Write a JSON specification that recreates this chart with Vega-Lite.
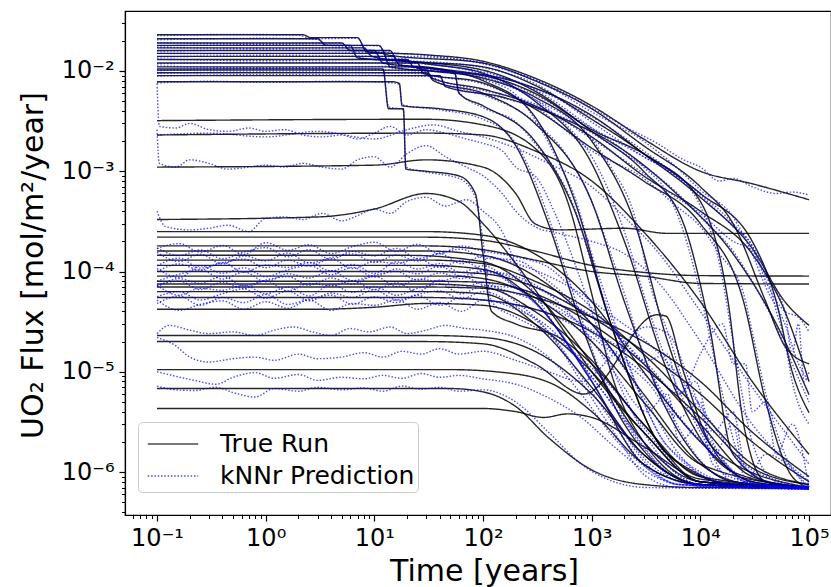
{
"$schema": "https://vega.github.io/schema/vega-lite/v6.json",
"width": 706, "height": 504,
"autosize": {"type": "none"},
"padding": {"left": 125, "top": 11, "right": 0, "bottom": 72},
"background": "white",
"config": {"view": {"stroke": "black", "strokeWidth": 1.2}, "font": "DejaVu Sans"},
"datasets": {
"tr": [
{"s":1,"t":0.1,"f":0.023},{"s":1,"t":2.2,"f":0.023},{"s":1,"t":2.6,"f":0.0215},{"s":1,"t":7,"f":0.0215},{"s":1,"t":8.5,"f":0.0155},{"s":1,"t":30,"f":0.0145},{"s":1,"t":100,"f":0.0125},{"s":1,"t":300,"f":0.0085},{"s":1,"t":1000,"f":0.0045},{"s":1,"t":3000,"f":0.0021},{"s":1,"t":10000,"f":0.001},{"s":1,"t":30000,"f":0.00075},{"s":1,"t":100000,"f":0.00052},
{"s":2,"t":0.1,"f":0.021},{"s":2,"t":3,"f":0.021},{"s":2,"t":3.6,"f":0.018},{"s":2,"t":11,"f":0.018},{"s":2,"t":13,"f":0.0145},{"s":2,"t":100,"f":0.012},{"s":2,"t":300,"f":0.008},{"s":2,"t":1000,"f":0.0042},{"s":2,"t":3000,"f":0.0018},{"s":2,"t":10000,"f":0.0007},{"s":2,"t":20000,"f":0.0003},{"s":2,"t":40000,"f":0.00005},{"s":2,"t":60000,"f":0.000018},{"s":2,"t":100000,"f":0.000012},
{"s":3,"t":0.1,"f":0.019},{"s":3,"t":5,"f":0.019},{"s":3,"t":6,"f":0.016},{"s":3,"t":14,"f":0.016},{"s":3,"t":16,"f":0.013},{"s":3,"t":100,"f":0.011},{"s":3,"t":300,"f":0.0072},{"s":3,"t":1000,"f":0.0033},{"s":3,"t":3000,"f":0.0015},{"s":3,"t":10000,"f":0.0005},{"s":3,"t":18000,"f":0.00005},{"s":3,"t":25000,"f":3e-6},{"s":3,"t":40000,"f":8e-7},{"s":3,"t":100000,"f":7e-7},
{"s":4,"t":0.1,"f":0.018},{"s":4,"t":6,"f":0.018},{"s":4,"t":7,"f":0.0135},{"s":4,"t":20,"f":0.0125},{"s":4,"t":100,"f":0.0102},{"s":4,"t":300,"f":0.0063},{"s":4,"t":1000,"f":0.0025},{"s":4,"t":3000,"f":0.001},{"s":4,"t":7000,"f":0.0003},{"s":4,"t":12000,"f":0.00003},{"s":4,"t":20000,"f":1.5e-6},{"s":4,"t":50000,"f":7.5e-7},{"s":4,"t":100000,"f":7e-7},
{"s":5,"t":0.1,"f":0.017},{"s":5,"t":8,"f":0.017},{"s":5,"t":9.5,"f":0.014},{"s":5,"t":30,"f":0.0118},{"s":5,"t":100,"f":0.0095},{"s":5,"t":300,"f":0.005},{"s":5,"t":1000,"f":0.0012},{"s":5,"t":2000,"f":0.0002},{"s":5,"t":5000,"f":0.00001},{"s":5,"t":20000,"f":1e-6},{"s":5,"t":100000,"f":7e-7},
{"s":6,"t":0.1,"f":0.016},{"s":6,"t":10,"f":0.016},{"s":6,"t":12,"f":0.012},{"s":6,"t":40,"f":0.0105},{"s":6,"t":100,"f":0.008},{"s":6,"t":300,"f":0.0035},{"s":6,"t":700,"f":0.0005},{"s":6,"t":1500,"f":0.00003},{"s":6,"t":5000,"f":1.5e-6},{"s":6,"t":20000,"f":7.5e-7},{"s":6,"t":100000,"f":7e-7},
{"s":7,"t":0.1,"f":0.015},{"s":7,"t":12,"f":0.015},{"s":7,"t":14,"f":0.011},{"s":7,"t":100,"f":0.009},{"s":7,"t":300,"f":0.006},{"s":7,"t":1000,"f":0.0026},{"s":7,"t":3000,"f":0.0015},{"s":7,"t":10000,"f":0.0006},{"s":7,"t":30000,"f":0.0002},{"s":7,"t":50000,"f":0.00005},{"s":7,"t":70000,"f":0.00001},{"s":7,"t":100000,"f":3.9e-6},
{"s":8,"t":0.1,"f":0.014},{"s":8,"t":15,"f":0.014},{"s":8,"t":17,"f":0.0115},{"s":8,"t":50,"f":0.0102},{"s":8,"t":200,"f":0.0078},{"s":8,"t":1000,"f":0.0036},{"s":8,"t":3000,"f":0.0015},{"s":8,"t":10000,"f":0.00055},{"s":8,"t":30000,"f":0.00017},{"s":8,"t":60000,"f":0.00005},{"s":8,"t":100000,"f":0.000029},
{"s":9,"t":0.1,"f":0.013},{"s":9,"t":20,"f":0.013},{"s":9,"t":23,"f":0.011},{"s":9,"t":100,"f":0.0085},{"s":9,"t":300,"f":0.0055},{"s":9,"t":1000,"f":0.002},{"s":9,"t":2500,"f":0.0003},{"s":9,"t":5000,"f":0.00002},{"s":9,"t":15000,"f":1.5e-6},{"s":9,"t":100000,"f":7e-7},
{"s":10,"t":0.1,"f":0.012},{"s":10,"t":25,"f":0.012},{"s":10,"t":28,"f":0.0095},{"s":10,"t":100,"f":0.0076},{"s":10,"t":300,"f":0.0042},{"s":10,"t":1000,"f":0.0017},{"s":10,"t":3000,"f":0.0008},{"s":10,"t":10000,"f":0.0003},{"s":10,"t":25000,"f":0.00005},{"s":10,"t":40000,"f":5e-6},{"s":10,"t":70000,"f":9e-7},{"s":10,"t":100000,"f":7e-7},
{"s":11,"t":0.1,"f":0.011},{"s":11,"t":20,"f":0.011},{"s":11,"t":55,"f":0.0095},{"s":11,"t":60,"f":0.006},{"s":11,"t":100,"f":0.0045},{"s":11,"t":300,"f":0.002},{"s":11,"t":700,"f":0.0004},{"s":11,"t":1500,"f":0.00003},{"s":11,"t":5000,"f":1.5e-6},{"s":11,"t":30000,"f":7e-7},{"s":11,"t":100000,"f":7e-7},
{"s":12,"t":0.1,"f":0.0102},{"s":12,"t":30,"f":0.0102},{"s":12,"t":34,"f":0.0085},{"s":12,"t":100,"f":0.0066},{"s":12,"t":300,"f":0.0045},{"s":12,"t":1000,"f":0.0022},{"s":12,"t":3000,"f":0.0009},{"s":12,"t":10000,"f":0.0004},{"s":12,"t":30000,"f":0.00015},{"s":12,"t":60000,"f":0.00004},{"s":12,"t":100000,"f":0.000008},
{"s":13,"t":0.1,"f":0.0096},{"s":13,"t":30,"f":0.0096},{"s":13,"t":35,"f":0.008},{"s":13,"t":100,"f":0.006},{"s":13,"t":300,"f":0.003},{"s":13,"t":1000,"f":0.0005},{"s":13,"t":2000,"f":0.00005},{"s":13,"t":5000,"f":4e-6},{"s":13,"t":20000,"f":8e-7},{"s":13,"t":100000,"f":7e-7},
{"s":14,"t":0.1,"f":0.009},{"s":14,"t":40,"f":0.009},{"s":14,"t":45,"f":0.007},{"s":14,"t":150,"f":0.0055},{"s":14,"t":500,"f":0.0035},{"s":14,"t":2000,"f":0.0016},{"s":14,"t":6000,"f":0.0006},{"s":14,"t":20000,"f":0.00015},{"s":14,"t":50000,"f":0.00003},{"s":14,"t":100000,"f":5.9e-6},
{"s":15,"t":0.1,"f":0.0078},{"s":15,"t":15,"f":0.0078},{"s":15,"t":17,"f":0.0075},{"s":15,"t":18,"f":0.0045},{"s":15,"t":40,"f":0.0042},{"s":15,"t":100,"f":0.0035},{"s":15,"t":200,"f":0.0018},{"s":15,"t":400,"f":0.0003},{"s":15,"t":800,"f":0.00003},{"s":15,"t":2000,"f":3e-6},{"s":15,"t":10000,"f":7.5e-7},{"s":15,"t":100000,"f":7e-7},
{"s":16,"t":0.1,"f":0.0105},{"s":16,"t":12,"f":0.0105},{"s":16,"t":13.5,"f":0.0042},{"s":16,"t":18.5,"f":0.0042},{"s":16,"t":19.5,"f":0.00105},{"s":16,"t":30,"f":0.001},{"s":16,"t":60,"f":0.0009},{"s":16,"t":85,"f":0.0006},{"s":16,"t":100,"f":0.00015},{"s":16,"t":120,"f":0.00004},{"s":16,"t":200,"f":0.00003},{"s":16,"t":500,"f":0.000022},{"s":16,"t":1000,"f":0.000012},{"s":16,"t":3000,"f":3e-6},{"s":16,"t":10000,"f":8e-7},{"s":16,"t":100000,"f":7e-7},
{"s":17,"t":0.1,"f":0.0032},{"s":17,"t":30,"f":0.0033},{"s":17,"t":100,"f":0.0029},{"s":17,"t":300,"f":0.0017},{"s":17,"t":600,"f":0.0005},{"s":17,"t":1000,"f":0.00006},{"s":17,"t":1500,"f":0.00001},{"s":17,"t":3000,"f":2e-6},{"s":17,"t":10000,"f":7.5e-7},{"s":17,"t":100000,"f":7e-7},
{"s":18,"t":0.1,"f":0.0023},{"s":18,"t":30,"f":0.0024},{"s":18,"t":100,"f":0.0023},{"s":18,"t":300,"f":0.0016},{"s":18,"t":1000,"f":0.0008},{"s":18,"t":3000,"f":0.00025},{"s":18,"t":10000,"f":0.00005},{"s":18,"t":30000,"f":8e-6},{"s":18,"t":100000,"f":1.5e-6},
{"s":19,"t":0.1,"f":0.0011},{"s":19,"t":10,"f":0.00115},{"s":19,"t":30,"f":0.0013},{"s":19,"t":100,"f":0.0011},{"s":19,"t":200,"f":0.0006},{"s":19,"t":300,"f":0.0003},{"s":19,"t":500,"f":0.00026},{"s":19,"t":2000,"f":0.00027},{"s":19,"t":5000,"f":0.00024},{"s":19,"t":100000,"f":0.00024},
{"s":20,"t":0.1,"f":0.00033},{"s":20,"t":3,"f":0.00035},{"s":20,"t":10,"f":0.00042},{"s":20,"t":30,"f":0.0006},{"s":20,"t":60,"f":0.0005},{"s":20,"t":100,"f":0.0003},{"s":20,"t":200,"f":0.00012},{"s":20,"t":500,"f":0.00003},{"s":20,"t":1000,"f":0.00001},{"s":20,"t":3000,"f":2.5e-6},{"s":20,"t":10000,"f":8e-7},{"s":20,"t":100000,"f":7e-7},
{"s":21,"t":0.1,"f":0.00025},{"s":21,"t":30,"f":0.00025},{"s":21,"t":100,"f":0.00023},{"s":21,"t":300,"f":0.00015},{"s":21,"t":1000,"f":0.00005},{"s":21,"t":3000,"f":0.00001},{"s":21,"t":10000,"f":2e-6},{"s":21,"t":30000,"f":8e-7},{"s":21,"t":100000,"f":7e-7},
{"s":22,"t":0.1,"f":0.00022},{"s":22,"t":30,"f":0.00022},{"s":22,"t":100,"f":0.000205},{"s":22,"t":300,"f":0.00016},{"s":22,"t":1000,"f":0.000115},{"s":22,"t":3000,"f":0.000098},{"s":22,"t":10000,"f":0.000091},{"s":22,"t":100000,"f":0.00009},
{"s":23,"t":0.1,"f":0.00018},{"s":23,"t":30,"f":0.00018},{"s":23,"t":100,"f":0.000165},{"s":23,"t":300,"f":0.00013},{"s":23,"t":1000,"f":0.0001},{"s":23,"t":3000,"f":0.00009},{"s":23,"t":10000,"f":0.000076},{"s":23,"t":100000,"f":0.000075},
{"s":24,"t":0.1,"f":0.00016},{"s":24,"t":30,"f":0.00016},{"s":24,"t":100,"f":0.000145},{"s":24,"t":300,"f":0.00009},{"s":24,"t":1000,"f":0.00003},{"s":24,"t":3000,"f":6e-6},{"s":24,"t":10000,"f":1.2e-6},{"s":24,"t":30000,"f":7.5e-7},{"s":24,"t":100000,"f":7e-7},
{"s":25,"t":0.1,"f":0.000145},{"s":25,"t":20,"f":0.000145},{"s":25,"t":100,"f":0.000125},{"s":25,"t":300,"f":0.00006},{"s":25,"t":1000,"f":0.000012},{"s":25,"t":3000,"f":2e-6},{"s":25,"t":10000,"f":8e-7},{"s":25,"t":100000,"f":7e-7},
{"s":26,"t":0.1,"f":0.00013},{"s":26,"t":30,"f":0.00013},{"s":26,"t":100,"f":0.00012},{"s":26,"t":300,"f":0.00008},{"s":26,"t":1000,"f":0.00004},{"s":26,"t":3000,"f":0.000015},{"s":26,"t":10000,"f":4e-6},{"s":26,"t":30000,"f":1.2e-6},{"s":26,"t":100000,"f":7.5e-7},
{"s":27,"t":0.1,"f":0.000115},{"s":27,"t":30,"f":0.000115},{"s":27,"t":100,"f":0.000105},{"s":27,"t":300,"f":0.00005},{"s":27,"t":1000,"f":8e-6},{"s":27,"t":3000,"f":1.2e-6},{"s":27,"t":10000,"f":7.5e-7},{"s":27,"t":100000,"f":7e-7},
{"s":28,"t":0.1,"f":0.0001},{"s":28,"t":30,"f":0.0001},{"s":28,"t":100,"f":0.000095},{"s":28,"t":300,"f":0.00007},{"s":28,"t":1000,"f":0.000035},{"s":28,"t":3000,"f":0.000016},{"s":28,"t":10000,"f":6e-6},{"s":28,"t":30000,"f":2e-6},{"s":28,"t":100000,"f":8e-7},
{"s":29,"t":0.1,"f":0.00009},{"s":29,"t":50,"f":0.00009},{"s":29,"t":100,"f":0.000085},{"s":29,"t":300,"f":0.000055},{"s":29,"t":1000,"f":0.00002},{"s":29,"t":3000,"f":5e-6},{"s":29,"t":10000,"f":1.2e-6},{"s":29,"t":100000,"f":7e-7},
{"s":30,"t":0.1,"f":0.00008},{"s":30,"t":30,"f":0.00008},{"s":30,"t":100,"f":0.000078},{"s":30,"t":300,"f":0.00006},{"s":30,"t":1000,"f":0.00003},{"s":30,"t":3000,"f":0.000012},{"s":30,"t":10000,"f":3e-6},{"s":30,"t":30000,"f":9e-7},{"s":30,"t":100000,"f":7e-7},
{"s":31,"t":0.1,"f":0.000075},{"s":31,"t":30,"f":0.000075},{"s":31,"t":100,"f":0.00007},{"s":31,"t":300,"f":0.00004},{"s":31,"t":1000,"f":0.000013},{"s":31,"t":3000,"f":3e-6},{"s":31,"t":10000,"f":9e-7},{"s":31,"t":100000,"f":7e-7},
{"s":32,"t":0.1,"f":0.00007},{"s":32,"t":30,"f":0.00007},{"s":32,"t":100,"f":0.000068},{"s":32,"t":300,"f":0.000055},{"s":32,"t":1000,"f":0.000035},{"s":32,"t":3000,"f":0.00002},{"s":32,"t":10000,"f":8e-6},{"s":32,"t":30000,"f":2.5e-6},{"s":32,"t":100000,"f":9e-7},
{"s":33,"t":0.1,"f":0.000063},{"s":33,"t":30,"f":0.000063},{"s":33,"t":100,"f":0.00006},{"s":33,"t":300,"f":0.00003},{"s":33,"t":1000,"f":7e-6},{"s":33,"t":3000,"f":1.5e-6},{"s":33,"t":10000,"f":7.5e-7},{"s":33,"t":100000,"f":7e-7},
{"s":34,"t":0.1,"f":0.000055},{"s":34,"t":30,"f":0.000055},{"s":34,"t":100,"f":0.000052},{"s":34,"t":300,"f":0.000042},{"s":34,"t":1000,"f":0.000025},{"s":34,"t":3000,"f":0.000011},{"s":34,"t":10000,"f":3.5e-6},{"s":34,"t":30000,"f":1.1e-6},{"s":34,"t":100000,"f":7.5e-7},
{"s":35,"t":0.1,"f":0.000042},{"s":35,"t":3,"f":0.000042},{"s":35,"t":10,"f":0.000044},{"s":35,"t":30,"f":0.000048},{"s":35,"t":100,"f":0.000046},{"s":35,"t":300,"f":0.00003},{"s":35,"t":1000,"f":0.00001},{"s":35,"t":3000,"f":2.5e-6},{"s":35,"t":10000,"f":8e-7},{"s":35,"t":100000,"f":7e-7},
{"s":36,"t":0.1,"f":0.000023},{"s":36,"t":30,"f":0.000023},{"s":36,"t":100,"f":0.000022},{"s":36,"t":300,"f":0.000016},{"s":36,"t":1000,"f":6e-6},{"s":36,"t":3000,"f":1.5e-6},{"s":36,"t":10000,"f":7.5e-7},{"s":36,"t":100000,"f":7e-7},
{"s":37,"t":0.1,"f":0.00002},{"s":37,"t":30,"f":0.00002},{"s":37,"t":100,"f":0.000019},{"s":37,"t":300,"f":0.000012},{"s":37,"t":850,"f":6e-6},{"s":37,"t":4000,"f":0.000037},{"s":37,"t":4800,"f":0.000036},{"s":37,"t":7000,"f":0.00001},{"s":37,"t":12000,"f":2e-6},{"s":37,"t":30000,"f":8e-7},{"s":37,"t":100000,"f":7e-7},
{"s":38,"t":0.1,"f":0.0000105},{"s":38,"t":50,"f":0.0000105},{"s":38,"t":200,"f":9.5e-6},{"s":38,"t":500,"f":7e-6},{"s":38,"t":1000,"f":4e-6},{"s":38,"t":3000,"f":1.2e-6},{"s":38,"t":10000,"f":7.5e-7},{"s":38,"t":100000,"f":7e-7},
{"s":39,"t":0.1,"f":6.8e-6},{"s":39,"t":50,"f":6.8e-6},{"s":39,"t":100,"f":6.3e-6},{"s":39,"t":200,"f":4.5e-6},{"s":39,"t":400,"f":2.2e-6},{"s":39,"t":1000,"f":1.05e-6},{"s":39,"t":3000,"f":7.5e-7},{"s":39,"t":10000,"f":7e-7},{"s":39,"t":100000,"f":7e-7},
{"s":40,"t":0.1,"f":4.3e-6},{"s":40,"t":100,"f":4.3e-6},{"s":40,"t":200,"f":4e-6},{"s":40,"t":360,"f":3.5e-6},{"s":40,"t":600,"f":3.8e-6},{"s":40,"t":1000,"f":3.5e-6},{"s":40,"t":3000,"f":1.8e-6},{"s":40,"t":10000,"f":8.5e-7},{"s":40,"t":100000,"f":7e-7}
],
"pr": [
{"s":1,"t":0.1,"f":0.0225},{"s":1,"t":0.5,"f":0.0232},{"s":1,"t":2,"f":0.0228},{"s":1,"t":2.6,"f":0.021},{"s":1,"t":7,"f":0.0212},{"s":1,"t":8.5,"f":0.016},{"s":1,"t":20,"f":0.0148},{"s":1,"t":50,"f":0.0135},{"s":1,"t":100,"f":0.012},{"s":1,"t":200,"f":0.0095},{"s":1,"t":400,"f":0.0072},{"s":1,"t":1000,"f":0.0043},{"s":1,"t":2000,"f":0.0028},{"s":1,"t":4000,"f":0.0019},{"s":1,"t":7000,"f":0.0013},{"s":1,"t":10000,"f":0.0011},{"s":1,"t":15000,"f":0.0008},{"s":1,"t":20000,"f":0.00085},{"s":1,"t":30000,"f":0.0007},{"s":1,"t":50000,"f":0.0006},{"s":1,"t":70000,"f":0.00062},{"s":1,"t":100000,"f":0.00058},
{"s":2,"t":0.1,"f":0.0205},{"s":2,"t":1,"f":0.0212},{"s":2,"t":3,"f":0.0207},{"s":2,"t":3.6,"f":0.0182},{"s":2,"t":11,"f":0.0178},{"s":2,"t":13,"f":0.014},{"s":2,"t":30,"f":0.0138},{"s":2,"t":100,"f":0.0118},{"s":2,"t":300,"f":0.0082},{"s":2,"t":1000,"f":0.0039},{"s":2,"t":3000,"f":0.002},{"s":2,"t":6000,"f":0.0011},{"s":2,"t":10000,"f":0.00065},{"s":2,"t":20000,"f":0.00035},{"s":2,"t":30000,"f":0.00015},{"s":2,"t":40000,"f":0.00007},{"s":2,"t":60000,"f":0.00003},{"s":2,"t":80000,"f":0.000012},{"s":2,"t":100000,"f":0.000008},
{"s":3,"t":0.1,"f":0.0192},{"s":3,"t":1,"f":0.0188},{"s":3,"t":5,"f":0.0191},{"s":3,"t":6,"f":0.0162},{"s":3,"t":14,"f":0.0158},{"s":3,"t":16,"f":0.0128},{"s":3,"t":40,"f":0.0122},{"s":3,"t":100,"f":0.0108},{"s":3,"t":300,"f":0.0075},{"s":3,"t":1000,"f":0.0031},{"s":3,"t":3000,"f":0.0014},{"s":3,"t":6000,"f":0.0009},{"s":3,"t":10000,"f":0.00045},{"s":3,"t":15000,"f":0.00012},{"s":3,"t":20000,"f":0.00002},{"s":3,"t":30000,"f":2e-6},{"s":3,"t":50000,"f":8e-7},{"s":3,"t":100000,"f":7e-7},
{"s":4,"t":0.1,"f":0.0178},{"s":4,"t":1,"f":0.0183},{"s":4,"t":6,"f":0.0176},{"s":4,"t":7,"f":0.0138},{"s":4,"t":20,"f":0.0122},{"s":4,"t":50,"f":0.011},{"s":4,"t":100,"f":0.0098},{"s":4,"t":300,"f":0.0065},{"s":4,"t":1000,"f":0.0027},{"s":4,"t":3000,"f":0.0011},{"s":4,"t":5000,"f":0.0006},{"s":4,"t":7000,"f":0.00025},{"s":4,"t":10000,"f":0.00006},{"s":4,"t":15000,"f":0.000008},{"s":4,"t":25000,"f":1.2e-6},{"s":4,"t":100000,"f":7e-7},
{"s":5,"t":0.1,"f":0.0172},{"s":5,"t":1,"f":0.0168},{"s":5,"t":8,"f":0.0171},{"s":5,"t":9.5,"f":0.0138},{"s":5,"t":30,"f":0.012},{"s":5,"t":100,"f":0.0092},{"s":5,"t":300,"f":0.0052},{"s":5,"t":600,"f":0.0028},{"s":5,"t":1000,"f":0.0014},{"s":5,"t":2000,"f":0.00025},{"s":5,"t":3000,"f":0.00006},{"s":5,"t":5000,"f":0.000012},{"s":5,"t":10000,"f":2.5e-6},{"s":5,"t":20000,"f":8e-7},{"s":5,"t":100000,"f":7e-7},
{"s":6,"t":0.1,"f":0.0158},{"s":6,"t":1,"f":0.0162},{"s":6,"t":10,"f":0.0158},{"s":6,"t":12,"f":0.0121},{"s":6,"t":40,"f":0.0102},{"s":6,"t":100,"f":0.0082},{"s":6,"t":200,"f":0.0058},{"s":6,"t":300,"f":0.0033},{"s":6,"t":500,"f":0.0012},{"s":6,"t":700,"f":0.00055},{"s":6,"t":1000,"f":0.00015},{"s":6,"t":1500,"f":0.00004},{"s":6,"t":3000,"f":5e-6},{"s":6,"t":5000,"f":1.8e-6},{"s":6,"t":20000,"f":7.5e-7},{"s":6,"t":100000,"f":7e-7},
{"s":7,"t":0.1,"f":0.015},{"s":7,"t":1,"f":0.0148},{"s":7,"t":12,"f":0.0152},{"s":7,"t":14,"f":0.0108},{"s":7,"t":40,"f":0.0098},{"s":7,"t":100,"f":0.0092},{"s":7,"t":300,"f":0.0058},{"s":7,"t":1000,"f":0.0027},{"s":7,"t":3000,"f":0.0014},{"s":7,"t":6000,"f":0.0009},{"s":7,"t":10000,"f":0.0006},{"s":7,"t":20000,"f":0.0003},{"s":7,"t":30000,"f":0.00018},{"s":7,"t":40000,"f":0.0001},{"s":7,"t":50000,"f":0.00004},{"s":7,"t":60000,"f":0.00002},{"s":7,"t":70000,"f":0.000008},{"s":7,"t":100000,"f":0.000003},
{"s":8,"t":0.1,"f":0.0138},{"s":8,"t":1,"f":0.0142},{"s":8,"t":15,"f":0.0139},{"s":8,"t":17,"f":0.0117},{"s":8,"t":50,"f":0.0099},{"s":8,"t":200,"f":0.0079},{"s":8,"t":500,"f":0.0052},{"s":8,"t":1000,"f":0.0035},{"s":8,"t":3000,"f":0.0016},{"s":8,"t":10000,"f":0.00058},{"s":8,"t":20000,"f":0.00028},{"s":8,"t":30000,"f":0.00018},{"s":8,"t":40000,"f":0.00008},{"s":8,"t":60000,"f":0.00004},{"s":8,"t":80000,"f":0.000035},{"s":8,"t":100000,"f":0.000025},
{"s":9,"t":0.1,"f":0.0131},{"s":9,"t":1,"f":0.0127},{"s":9,"t":20,"f":0.0132},{"s":9,"t":23,"f":0.0108},{"s":9,"t":100,"f":0.0088},{"s":9,"t":300,"f":0.0052},{"s":9,"t":1000,"f":0.0021},{"s":9,"t":1500,"f":0.0011},{"s":9,"t":2500,"f":0.00035},{"s":9,"t":3500,"f":0.00007},{"s":9,"t":5000,"f":0.000025},{"s":9,"t":8000,"f":5e-6},{"s":9,"t":15000,"f":1.5e-6},{"s":9,"t":30000,"f":7.5e-7},{"s":9,"t":100000,"f":7e-7},
{"s":10,"t":0.1,"f":0.0118},{"s":10,"t":1,"f":0.0122},{"s":10,"t":25,"f":0.0119},{"s":10,"t":28,"f":0.0097},{"s":10,"t":100,"f":0.0074},{"s":10,"t":300,"f":0.0044},{"s":10,"t":1000,"f":0.0016},{"s":10,"t":3000,"f":0.00085},{"s":10,"t":6000,"f":0.00045},{"s":10,"t":10000,"f":0.00028},{"s":10,"t":15000,"f":0.00015},{"s":10,"t":25000,"f":0.00006},{"s":10,"t":30000,"f":0.000025},{"s":10,"t":40000,"f":0.000006},{"s":10,"t":60000,"f":1.5e-6},{"s":10,"t":100000,"f":7e-7},
{"s":11,"t":0.1,"f":0.0112},{"s":11,"t":1,"f":0.0108},{"s":11,"t":20,"f":0.0111},{"s":11,"t":55,"f":0.0093},{"s":11,"t":60,"f":0.0062},{"s":11,"t":100,"f":0.0043},{"s":11,"t":200,"f":0.0031},{"s":11,"t":300,"f":0.0019},{"s":11,"t":500,"f":0.0009},{"s":11,"t":700,"f":0.00042},{"s":11,"t":1000,"f":0.00012},{"s":11,"t":1500,"f":0.000035},{"s":11,"t":3000,"f":5e-6},{"s":11,"t":5000,"f":1.8e-6},{"s":11,"t":30000,"f":7e-7},{"s":11,"t":100000,"f":7e-7},
{"s":12,"t":0.1,"f":0.0101},{"s":12,"t":1,"f":0.0104},{"s":12,"t":30,"f":0.01},{"s":12,"t":34,"f":0.0087},{"s":12,"t":100,"f":0.0064},{"s":12,"t":300,"f":0.0047},{"s":12,"t":1000,"f":0.0021},{"s":12,"t":3000,"f":0.00095},{"s":12,"t":6000,"f":0.00055},{"s":12,"t":10000,"f":0.00038},{"s":12,"t":20000,"f":0.0002},{"s":12,"t":30000,"f":0.00016},{"s":12,"t":40000,"f":0.00009},{"s":12,"t":60000,"f":0.00004},{"s":12,"t":70000,"f":0.000015},{"s":12,"t":80000,"f":0.00003},{"s":12,"t":90000,"f":0.000008},{"s":12,"t":100000,"f":0.00001},
{"s":13,"t":0.1,"f":0.0095},{"s":13,"t":1,"f":0.0098},{"s":13,"t":30,"f":0.0094},{"s":13,"t":35,"f":0.0082},{"s":13,"t":100,"f":0.0058},{"s":13,"t":300,"f":0.0031},{"s":13,"t":600,"f":0.0014},{"s":13,"t":1000,"f":0.0005},{"s":13,"t":1500,"f":0.00015},{"s":13,"t":2000,"f":0.00006},{"s":13,"t":3000,"f":0.000015},{"s":13,"t":5000,"f":4.5e-6},{"s":13,"t":10000,"f":1.3e-6},{"s":13,"t":20000,"f":8e-7},{"s":13,"t":100000,"f":7e-7},
{"s":14,"t":0.1,"f":0.0089},{"s":14,"t":1,"f":0.0092},{"s":14,"t":40,"f":0.0088},{"s":14,"t":45,"f":0.0072},{"s":14,"t":150,"f":0.0054},{"s":14,"t":500,"f":0.0036},{"s":14,"t":2000,"f":0.0015},{"s":14,"t":4000,"f":0.0009},{"s":14,"t":6000,"f":0.00062},{"s":14,"t":10000,"f":0.00035},{"s":14,"t":20000,"f":0.00016},{"s":14,"t":30000,"f":0.00008},{"s":14,"t":50000,"f":0.000028},{"s":14,"t":70000,"f":0.000012},{"s":14,"t":100000,"f":0.000005},
{"s":15,"t":0.1,"f":0.0076},{"s":15,"t":0.3,"f":0.0079},{"s":15,"t":1,"f":0.0077},{"s":15,"t":5,"f":0.0079},{"s":15,"t":15,"f":0.0076},{"s":15,"t":17,"f":0.0073},{"s":15,"t":18,"f":0.0046},{"s":15,"t":40,"f":0.0041},{"s":15,"t":100,"f":0.0033},{"s":15,"t":200,"f":0.0019},{"s":15,"t":300,"f":0.0008},{"s":15,"t":400,"f":0.00035},{"s":15,"t":600,"f":0.00009},{"s":15,"t":800,"f":0.000035},{"s":15,"t":1200,"f":0.00001},{"s":15,"t":2000,"f":3.5e-6},{"s":15,"t":5000,"f":1e-6},{"s":15,"t":10000,"f":7.5e-7},{"s":15,"t":100000,"f":7e-7},
{"s":16,"t":0.1,"f":0.0102},{"s":16,"t":1,"f":0.0106},{"s":16,"t":12,"f":0.0103},{"s":16,"t":13.5,"f":0.0044},{"s":16,"t":18.5,"f":0.0041},{"s":16,"t":19.5,"f":0.0011},{"s":16,"t":30,"f":0.00098},{"s":16,"t":60,"f":0.00085},{"s":16,"t":85,"f":0.00055},{"s":16,"t":100,"f":0.0002},{"s":16,"t":120,"f":0.00005},{"s":16,"t":200,"f":0.000035},{"s":16,"t":300,"f":0.000028},{"s":16,"t":500,"f":0.00002},{"s":16,"t":1000,"f":0.000011},{"s":16,"t":2000,"f":5e-6},{"s":16,"t":3000,"f":2.8e-6},{"s":16,"t":10000,"f":8e-7},{"s":16,"t":100000,"f":7e-7},
{"s":17,"t":0.1,"f":0.0075},{"s":17,"t":0.105,"f":0.0028},{"s":17,"t":0.15,"f":0.0027},{"s":17,"t":0.2,"f":0.003},{"s":17,"t":0.3,"f":0.0026},{"s":17,"t":0.45,"f":0.0025},{"s":17,"t":0.7,"f":0.0027},{"s":17,"t":1,"f":0.0025},{"s":17,"t":1.5,"f":0.0026},{"s":17,"t":2.2,"f":0.0023},{"s":17,"t":3.3,"f":0.0022},{"s":17,"t":5,"f":0.0023},{"s":17,"t":7,"f":0.0021},{"s":17,"t":10,"f":0.0024},{"s":17,"t":14,"f":0.0028},{"s":17,"t":20,"f":0.0023},{"s":17,"t":30,"f":0.0026},{"s":17,"t":45,"f":0.0024},{"s":17,"t":70,"f":0.0021},{"s":17,"t":100,"f":0.0019},{"s":17,"t":150,"f":0.0016},{"s":17,"t":200,"f":0.0011},{"s":17,"t":300,"f":0.0009},{"s":17,"t":450,"f":0.0004},{"s":17,"t":700,"f":0.00012},{"s":17,"t":1000,"f":0.00004},{"s":17,"t":1500,"f":0.000012},{"s":17,"t":3000,"f":2.5e-6},{"s":17,"t":10000,"f":7.5e-7},{"s":17,"t":100000,"f":6.8e-7},
{"s":18,"t":0.1,"f":0.0023},{"s":18,"t":0.3,"f":0.0024},{"s":18,"t":1,"f":0.0022},{"s":18,"t":3,"f":0.0025},{"s":18,"t":10,"f":0.0021},{"s":18,"t":20,"f":0.0026},{"s":18,"t":35,"f":0.0029},{"s":18,"t":60,"f":0.0025},{"s":18,"t":100,"f":0.0022},{"s":18,"t":200,"f":0.0017},{"s":18,"t":400,"f":0.0012},{"s":18,"t":1000,"f":0.0007},{"s":18,"t":2000,"f":0.00035},{"s":18,"t":4000,"f":0.00016},{"s":18,"t":10000,"f":0.00004},{"s":18,"t":30000,"f":7e-6},{"s":18,"t":100000,"f":1.2e-6},
{"s":19,"t":0.1,"f":0.0026},{"s":19,"t":0.105,"f":0.0012},{"s":19,"t":0.15,"f":0.0011},{"s":19,"t":0.2,"f":0.0013},{"s":19,"t":0.3,"f":0.0012},{"s":19,"t":0.45,"f":0.00105},{"s":19,"t":0.7,"f":0.0011},{"s":19,"t":1,"f":0.00115},{"s":19,"t":1.5,"f":0.0011},{"s":19,"t":2.2,"f":0.0012},{"s":19,"t":3.3,"f":0.0011},{"s":19,"t":5,"f":0.00105},{"s":19,"t":7,"f":0.0013},{"s":19,"t":10,"f":0.0014},{"s":19,"t":14,"f":0.0011},{"s":19,"t":20,"f":0.0015},{"s":19,"t":30,"f":0.0018},{"s":19,"t":45,"f":0.0014},{"s":19,"t":70,"f":0.0011},{"s":19,"t":100,"f":0.0009},{"s":19,"t":150,"f":0.0006},{"s":19,"t":200,"f":0.0004},{"s":19,"t":300,"f":0.00028},{"s":19,"t":500,"f":0.00024},{"s":19,"t":1000,"f":0.0002},{"s":19,"t":2000,"f":0.00015},{"s":19,"t":4000,"f":0.00008},{"s":19,"t":10000,"f":0.00002},{"s":19,"t":30000,"f":3e-6},{"s":19,"t":100000,"f":8e-7},
{"s":20,"t":0.1,"f":0.0004},{"s":20,"t":0.12,"f":0.00028},{"s":20,"t":0.2,"f":0.00026},{"s":20,"t":0.3,"f":0.00027},{"s":20,"t":0.45,"f":0.00029},{"s":20,"t":0.7,"f":0.00025},{"s":20,"t":1,"f":0.00034},{"s":20,"t":1.5,"f":0.00035},{"s":20,"t":2.2,"f":0.00033},{"s":20,"t":3.3,"f":0.00038},{"s":20,"t":5,"f":0.00032},{"s":20,"t":7,"f":0.00036},{"s":20,"t":10,"f":0.00042},{"s":20,"t":14,"f":0.00038},{"s":20,"t":20,"f":0.0005},{"s":20,"t":30,"f":0.00055},{"s":20,"t":45,"f":0.00045},{"s":20,"t":70,"f":0.00052},{"s":20,"t":100,"f":0.0004},{"s":20,"t":150,"f":0.00025},{"s":20,"t":200,"f":0.00012},{"s":20,"t":300,"f":0.00006},{"s":20,"t":500,"f":0.000025},{"s":20,"t":1000,"f":0.000009},{"s":20,"t":3000,"f":2e-6},{"s":20,"t":10000,"f":7.5e-7},{"s":20,"t":100000,"f":6.8e-7},
{"s":21,"t":0.1,"f":0.00017},{"s":21,"t":0.16,"f":0.00019},{"s":21,"t":0.25,"f":0.000156},{"s":21,"t":0.4,"f":0.000182},{"s":21,"t":0.63,"f":0.000148},{"s":21,"t":1,"f":0.000194},{"s":21,"t":1.6,"f":0.000163},{"s":21,"t":2.5,"f":0.000185},{"s":21,"t":4,"f":0.000151},{"s":21,"t":6.3,"f":0.000177},{"s":21,"t":10,"f":0.000196},{"s":21,"t":16,"f":0.000158},{"s":21,"t":25,"f":0.000187},{"s":21,"t":40,"f":0.00015},{"s":21,"t":63,"f":0.00018},{"s":21,"t":100,"f":0.00016},{"s":21,"t":200,"f":0.00014},{"s":21,"t":400,"f":0.00011},{"s":21,"t":800,"f":0.000055},{"s":21,"t":1600,"f":0.000026},{"s":21,"t":3200,"f":0.000011},{"s":21,"t":6400,"f":3.5e-6},{"s":21,"t":13000,"f":1.6e-6},{"s":21,"t":26000,"f":8.5e-7},{"s":21,"t":50000,"f":7.2e-7},{"s":21,"t":100000,"f":6.8e-7},
{"s":22,"t":0.1,"f":0.000171},{"s":22,"t":0.16,"f":0.000144},{"s":22,"t":0.25,"f":0.000164},{"s":22,"t":0.4,"f":0.000134},{"s":22,"t":0.63,"f":0.000156},{"s":22,"t":1,"f":0.000173},{"s":22,"t":1.6,"f":0.00014},{"s":22,"t":2.5,"f":0.000165},{"s":22,"t":4,"f":0.000132},{"s":22,"t":6.3,"f":0.000159},{"s":22,"t":10,"f":0.000143},{"s":22,"t":16,"f":0.00017},{"s":22,"t":25,"f":0.000135},{"s":22,"t":40,"f":0.000153},{"s":22,"t":63,"f":0.000167},{"s":22,"t":100,"f":0.000137},{"s":22,"t":200,"f":0.00013},{"s":22,"t":400,"f":0.00008},{"s":22,"t":800,"f":0.00004},{"s":22,"t":1600,"f":0.000015},{"s":22,"t":3200,"f":5e-6},{"s":22,"t":6400,"f":1.5e-6},{"s":22,"t":13000,"f":8e-7},{"s":22,"t":26000,"f":7e-7},{"s":22,"t":100000,"f":6.8e-7},
{"s":23,"t":0.1,"f":0.000155},{"s":23,"t":0.16,"f":0.000126},{"s":23,"t":0.25,"f":0.000149},{"s":23,"t":0.4,"f":0.000119},{"s":23,"t":0.63,"f":0.000143},{"s":23,"t":1,"f":0.000128},{"s":23,"t":1.6,"f":0.000153},{"s":23,"t":2.5,"f":0.000122},{"s":23,"t":4,"f":0.000138},{"s":23,"t":6.3,"f":0.00015},{"s":23,"t":10,"f":0.000123},{"s":23,"t":16,"f":0.000146},{"s":23,"t":25,"f":0.000127},{"s":23,"t":40,"f":0.000151},{"s":23,"t":63,"f":0.00012},{"s":23,"t":100,"f":0.000142},{"s":23,"t":200,"f":0.00012},{"s":23,"t":400,"f":0.00009},{"s":23,"t":800,"f":0.00006},{"s":23,"t":1600,"f":0.000035},{"s":23,"t":3200,"f":0.00002},{"s":23,"t":6400,"f":9e-6},{"s":23,"t":13000,"f":3e-6},{"s":23,"t":26000,"f":1.1e-6},{"s":23,"t":50000,"f":7.5e-7},{"s":23,"t":100000,"f":7e-7},
{"s":24,"t":0.1,"f":0.000114},{"s":24,"t":0.16,"f":0.000136},{"s":24,"t":0.25,"f":0.000108},{"s":24,"t":0.4,"f":0.000122},{"s":24,"t":0.63,"f":0.000133},{"s":24,"t":1,"f":0.000109},{"s":24,"t":1.6,"f":0.00013},{"s":24,"t":2.5,"f":0.000113},{"s":24,"t":4,"f":0.000134},{"s":24,"t":6.3,"f":0.000107},{"s":24,"t":10,"f":0.000126},{"s":24,"t":16,"f":0.00012},{"s":24,"t":25,"f":0.000134},{"s":24,"t":40,"f":0.00011},{"s":24,"t":63,"f":0.000128},{"s":24,"t":100,"f":0.000104},{"s":24,"t":200,"f":0.00009},{"s":24,"t":400,"f":0.00006},{"s":24,"t":800,"f":0.000028},{"s":24,"t":1600,"f":0.00001},{"s":24,"t":3200,"f":4e-6},{"s":24,"t":5000,"f":6e-6},{"s":24,"t":6400,"f":2e-6},{"s":24,"t":10000,"f":3e-6},{"s":24,"t":13000,"f":1.2e-6},{"s":24,"t":26000,"f":8e-7},{"s":24,"t":100000,"f":6.8e-7},
{"s":25,"t":0.1,"f":0.0001},{"s":25,"t":0.16,"f":0.000119},{"s":25,"t":0.25,"f":0.000103},{"s":25,"t":0.4,"f":0.000123},{"s":25,"t":0.63,"f":0.000098},{"s":25,"t":1,"f":0.000116},{"s":25,"t":1.6,"f":0.00011},{"s":25,"t":2.5,"f":0.000123},{"s":25,"t":4,"f":0.000101},{"s":25,"t":6.3,"f":0.000118},{"s":25,"t":10,"f":0.000096},{"s":25,"t":16,"f":0.000125},{"s":25,"t":25,"f":0.000106},{"s":25,"t":40,"f":0.00012},{"s":25,"t":63,"f":0.000098},{"s":25,"t":100,"f":0.000114},{"s":25,"t":200,"f":0.00007},{"s":25,"t":400,"f":0.000035},{"s":25,"t":800,"f":0.000012},{"s":25,"t":1600,"f":3.5e-6},{"s":25,"t":3200,"f":1.3e-6},{"s":25,"t":6400,"f":8e-7},{"s":25,"t":13000,"f":7e-7},{"s":25,"t":100000,"f":6.8e-7},
{"s":26,"t":0.1,"f":0.000107},{"s":26,"t":0.16,"f":0.000087},{"s":26,"t":0.25,"f":0.000114},{"s":26,"t":0.4,"f":0.000096},{"s":26,"t":0.63,"f":0.000109},{"s":26,"t":1,"f":0.000089},{"s":26,"t":1.6,"f":0.000104},{"s":26,"t":2.5,"f":0.000115},{"s":26,"t":4,"f":0.000093},{"s":26,"t":6.3,"f":0.00011},{"s":26,"t":10,"f":0.000088},{"s":26,"t":16,"f":0.000106},{"s":26,"t":25,"f":0.000095},{"s":26,"t":40,"f":0.000113},{"s":26,"t":63,"f":0.00009},{"s":26,"t":100,"f":0.000102},{"s":26,"t":200,"f":0.000085},{"s":26,"t":400,"f":0.00006},{"s":26,"t":800,"f":0.000042},{"s":26,"t":1600,"f":0.000025},{"s":26,"t":3200,"f":0.000013},{"s":26,"t":5000,"f":0.000015},{"s":26,"t":6400,"f":6e-6},{"s":26,"t":9000,"f":8e-6},{"s":26,"t":13000,"f":2.5e-6},{"s":26,"t":20000,"f":4e-6},{"s":26,"t":26000,"f":1.1e-6},{"s":26,"t":50000,"f":7.5e-7},{"s":26,"t":100000,"f":7e-7},
{"s":27,"t":0.1,"f":0.00008},{"s":27,"t":0.16,"f":0.000094},{"s":27,"t":0.25,"f":0.000104},{"s":27,"t":0.4,"f":0.000084},{"s":27,"t":0.63,"f":0.000099},{"s":27,"t":1,"f":0.000079},{"s":27,"t":1.6,"f":0.000095},{"s":27,"t":2.5,"f":0.000086},{"s":27,"t":4,"f":0.000102},{"s":27,"t":6.3,"f":0.000081},{"s":27,"t":10,"f":0.000092},{"s":27,"t":16,"f":0.0001},{"s":27,"t":25,"f":0.000082},{"s":27,"t":40,"f":0.000097},{"s":27,"t":63,"f":0.000085},{"s":27,"t":100,"f":0.0001},{"s":27,"t":200,"f":0.00007},{"s":27,"t":400,"f":0.000035},{"s":27,"t":800,"f":0.000012},{"s":27,"t":1600,"f":3.5e-6},{"s":27,"t":3200,"f":1.2e-6},{"s":27,"t":6400,"f":7.5e-7},{"s":27,"t":100000,"f":6.8e-7},
{"s":28,"t":0.1,"f":0.00007},{"s":28,"t":0.16,"f":0.000085},{"s":28,"t":0.25,"f":0.000076},{"s":28,"t":0.4,"f":0.00009},{"s":28,"t":0.63,"f":0.000072},{"s":28,"t":1,"f":0.000082},{"s":28,"t":1.6,"f":0.000089},{"s":28,"t":2.5,"f":0.000073},{"s":28,"t":4,"f":0.000086},{"s":28,"t":6.3,"f":0.000075},{"s":28,"t":10,"f":0.00009},{"s":28,"t":16,"f":0.000071},{"s":28,"t":25,"f":0.000084},{"s":28,"t":40,"f":0.00008},{"s":28,"t":63,"f":0.00009},{"s":28,"t":100,"f":0.000074},{"s":28,"t":200,"f":0.000068},{"s":28,"t":400,"f":0.00005},{"s":28,"t":800,"f":0.00003},{"s":28,"t":1600,"f":0.000016},{"s":28,"t":3200,"f":9e-6},{"s":28,"t":6400,"f":3.5e-6},{"s":28,"t":13000,"f":1.5e-6},{"s":28,"t":26000,"f":8e-7},{"s":28,"t":100000,"f":7e-7},
{"s":29,"t":0.1,"f":0.000073},{"s":29,"t":0.16,"f":0.00008},{"s":29,"t":0.25,"f":0.000066},{"s":29,"t":0.4,"f":0.000078},{"s":29,"t":0.63,"f":0.000068},{"s":29,"t":1,"f":0.000081},{"s":29,"t":1.6,"f":0.000064},{"s":29,"t":2.5,"f":0.000076},{"s":29,"t":4,"f":0.000072},{"s":29,"t":6.3,"f":0.000081},{"s":29,"t":10,"f":0.000066},{"s":29,"t":16,"f":0.000077},{"s":29,"t":25,"f":0.000063},{"s":29,"t":40,"f":0.000082},{"s":29,"t":63,"f":0.000069},{"s":29,"t":100,"f":0.000078},{"s":29,"t":200,"f":0.00005},{"s":29,"t":400,"f":0.000025},{"s":29,"t":800,"f":8e-6},{"s":29,"t":1600,"f":2.5e-6},{"s":29,"t":3200,"f":9e-7},{"s":29,"t":6400,"f":7e-7},{"s":29,"t":100000,"f":6.8e-7},
{"s":30,"t":0.1,"f":0.000073},{"s":30,"t":0.16,"f":0.000058},{"s":30,"t":0.25,"f":0.000068},{"s":30,"t":0.4,"f":0.000065},{"s":30,"t":0.63,"f":0.000073},{"s":30,"t":1,"f":0.00006},{"s":30,"t":1.6,"f":0.00007},{"s":30,"t":2.5,"f":0.000057},{"s":30,"t":4,"f":0.000074},{"s":30,"t":6.3,"f":0.000062},{"s":30,"t":10,"f":0.000071},{"s":30,"t":16,"f":0.000058},{"s":30,"t":25,"f":0.000068},{"s":30,"t":40,"f":0.000075},{"s":30,"t":63,"f":0.00006},{"s":30,"t":100,"f":0.000072},{"s":30,"t":200,"f":0.00006},{"s":30,"t":400,"f":0.000045},{"s":30,"t":800,"f":0.00003},{"s":30,"t":1600,"f":0.000019},{"s":30,"t":3200,"f":0.000012},{"s":30,"t":6400,"f":6e-6},{"s":30,"t":10000,"f":0.000015},{"s":30,"t":13000,"f":0.000025},{"s":30,"t":16000,"f":0.00003},{"s":30,"t":20000,"f":0.000012},{"s":30,"t":26000,"f":0.000012},{"s":30,"t":30000,"f":4e-6},{"s":30,"t":40000,"f":5e-6},{"s":30,"t":50000,"f":1.5e-6},{"s":30,"t":70000,"f":3e-6},{"s":30,"t":100000,"f":7e-7},
{"s":31,"t":0.1,"f":0.000056},{"s":31,"t":0.16,"f":0.000063},{"s":31,"t":0.25,"f":0.000052},{"s":31,"t":0.4,"f":0.00006},{"s":31,"t":0.63,"f":0.000067},{"s":31,"t":1,"f":0.000054},{"s":31,"t":1.6,"f":0.000064},{"s":31,"t":2.5,"f":0.000051},{"s":31,"t":4,"f":0.000061},{"s":31,"t":6.3,"f":0.000055},{"s":31,"t":10,"f":0.000066},{"s":31,"t":16,"f":0.000052},{"s":31,"t":25,"f":0.000059},{"s":31,"t":40,"f":0.000064},{"s":31,"t":63,"f":0.000053},{"s":31,"t":100,"f":0.000063},{"s":31,"t":200,"f":0.000045},{"s":31,"t":400,"f":0.000025},{"s":31,"t":800,"f":9e-6},{"s":31,"t":1600,"f":3e-6},{"s":31,"t":3200,"f":1.1e-6},{"s":31,"t":6400,"f":7.5e-7},{"s":31,"t":100000,"f":6.8e-7},
{"s":32,"t":0.1,"f":0.000048},{"s":32,"t":0.16,"f":0.000057},{"s":32,"t":0.25,"f":0.000046},{"s":32,"t":0.4,"f":0.000055},{"s":32,"t":0.63,"f":0.000049},{"s":32,"t":1,"f":0.000059},{"s":32,"t":1.6,"f":0.000047},{"s":32,"t":2.5,"f":0.000053},{"s":32,"t":4,"f":0.000058},{"s":32,"t":6.3,"f":0.000047},{"s":32,"t":10,"f":0.000056},{"s":32,"t":16,"f":0.000049},{"s":32,"t":25,"f":0.000058},{"s":32,"t":40,"f":0.000046},{"s":32,"t":63,"f":0.000055},{"s":32,"t":100,"f":0.000052},{"s":32,"t":200,"f":0.000046},{"s":32,"t":400,"f":0.000038},{"s":32,"t":800,"f":0.000026},{"s":32,"t":1600,"f":0.000015},{"s":32,"t":3200,"f":8e-6},{"s":32,"t":6400,"f":3.5e-6},{"s":32,"t":10000,"f":5e-6},{"s":32,"t":13000,"f":1.4e-6},{"s":32,"t":20000,"f":3e-6},{"s":32,"t":26000,"f":8e-7},{"s":32,"t":40000,"f":1.5e-6},{"s":32,"t":100000,"f":7e-7},
{"s":33,"t":0.1,"f":0.000052},{"s":33,"t":0.16,"f":0.000041},{"s":33,"t":0.25,"f":0.000047},{"s":33,"t":0.4,"f":0.000051},{"s":33,"t":0.63,"f":0.000042},{"s":33,"t":1,"f":0.00005},{"s":33,"t":1.6,"f":0.000043},{"s":33,"t":2.5,"f":0.000052},{"s":33,"t":4,"f":0.000041},{"s":33,"t":6.3,"f":0.000048},{"s":33,"t":10,"f":0.000046},{"s":33,"t":16,"f":0.000052},{"s":33,"t":25,"f":0.000042},{"s":33,"t":40,"f":0.000049},{"s":33,"t":63,"f":0.00004},{"s":33,"t":100,"f":0.000052},{"s":33,"t":200,"f":0.000042},{"s":33,"t":400,"f":0.000028},{"s":33,"t":800,"f":0.000012},{"s":33,"t":1600,"f":4.5e-6},{"s":33,"t":3200,"f":1.6e-6},{"s":33,"t":6400,"f":8e-7},{"s":33,"t":100000,"f":6.8e-7},
{"s":36,"t":0.1,"f":0.000024},{"s":36,"t":0.13,"f":0.000029},{"s":36,"t":0.2,"f":0.000026},{"s":36,"t":0.3,"f":0.000024},{"s":36,"t":0.5,"f":0.000025},{"s":36,"t":0.8,"f":0.000023},{"s":36,"t":1.2,"f":0.000026},{"s":36,"t":1.8,"f":0.000028},{"s":36,"t":2.7,"f":0.000025},{"s":36,"t":4,"f":0.000023},{"s":36,"t":6,"f":0.000027},{"s":36,"t":9,"f":0.000025},{"s":36,"t":14,"f":0.000028},{"s":36,"t":20,"f":0.000024},{"s":36,"t":30,"f":0.000026},{"s":36,"t":45,"f":0.000029},{"s":36,"t":70,"f":0.000027},{"s":36,"t":100,"f":0.000026},{"s":36,"t":200,"f":0.000022},{"s":36,"t":400,"f":0.000014},{"s":36,"t":800,"f":6e-6},{"s":36,"t":1600,"f":2.2e-6},{"s":36,"t":3200,"f":1.1e-6},{"s":36,"t":6400,"f":7.5e-7},{"s":36,"t":100000,"f":6.8e-7},
{"s":37,"t":0.1,"f":0.000022},{"s":37,"t":0.15,"f":0.000018},{"s":37,"t":0.2,"f":0.000014},{"s":37,"t":0.3,"f":0.0000125},{"s":37,"t":0.5,"f":0.0000135},{"s":37,"t":0.8,"f":0.000014},{"s":37,"t":1.2,"f":0.000013},{"s":37,"t":2,"f":0.000015},{"s":37,"t":3,"f":0.0000135},{"s":37,"t":5,"f":0.000014},{"s":37,"t":8,"f":0.0000155},{"s":37,"t":12,"f":0.000014},{"s":37,"t":18,"f":0.000016},{"s":37,"t":27,"f":0.000015},{"s":37,"t":40,"f":0.000017},{"s":37,"t":60,"f":0.000015},{"s":37,"t":100,"f":0.000016},{"s":37,"t":200,"f":0.000013},{"s":37,"t":400,"f":0.00001},{"s":37,"t":800,"f":8e-6},{"s":37,"t":1600,"f":0.000015},{"s":37,"t":3200,"f":0.000028},{"s":37,"t":5000,"f":0.000024},{"s":37,"t":8000,"f":8e-6},{"s":37,"t":13000,"f":2e-6},{"s":37,"t":26000,"f":8e-7},{"s":37,"t":100000,"f":6.8e-7},
{"s":38,"t":0.1,"f":0.00001},{"s":38,"t":0.15,"f":9e-6},{"s":38,"t":0.22,"f":8.2e-6},{"s":38,"t":0.35,"f":7.5e-6},{"s":38,"t":0.5,"f":8.8e-6},{"s":38,"t":0.8,"f":9.8e-6},{"s":38,"t":1.2,"f":8.6e-6},{"s":38,"t":2,"f":9.4e-6},{"s":38,"t":3,"f":8.2e-6},{"s":38,"t":5,"f":8.8e-6},{"s":38,"t":8,"f":8.5e-6},{"s":38,"t":12,"f":9.2e-6},{"s":38,"t":18,"f":8.6e-6},{"s":38,"t":27,"f":9.6e-6},{"s":38,"t":40,"f":8.8e-6},{"s":38,"t":60,"f":9.2e-6},{"s":38,"t":100,"f":8.5e-6},{"s":38,"t":200,"f":7.5e-6},{"s":38,"t":400,"f":5.5e-6},{"s":38,"t":800,"f":3.5e-6},{"s":38,"t":1600,"f":1.8e-6},{"s":38,"t":3200,"f":1e-6},{"s":38,"t":6400,"f":7.5e-7},{"s":38,"t":100000,"f":6.8e-7},
{"s":39,"t":0.1,"f":7.2e-6},{"s":39,"t":0.15,"f":6.6e-6},{"s":39,"t":0.22,"f":6.5e-6},{"s":39,"t":0.35,"f":7e-6},{"s":39,"t":0.5,"f":6.2e-6},{"s":39,"t":0.8,"f":5.6e-6},{"s":39,"t":1.2,"f":6.8e-6},{"s":39,"t":2,"f":6.4e-6},{"s":39,"t":3,"f":7e-6},{"s":39,"t":5,"f":6.6e-6},{"s":39,"t":8,"f":6.9e-6},{"s":39,"t":12,"f":6.4e-6},{"s":39,"t":18,"f":7.2e-6},{"s":39,"t":27,"f":6.7e-6},{"s":39,"t":40,"f":7e-6},{"s":39,"t":60,"f":6.4e-6},{"s":39,"t":100,"f":6.6e-6},{"s":39,"t":200,"f":5e-6},{"s":39,"t":400,"f":2.5e-6},{"s":39,"t":800,"f":1.2e-6},{"s":39,"t":1600,"f":8e-7},{"s":39,"t":3200,"f":7e-7},{"s":39,"t":100000,"f":6.8e-7}
]
},
"layer": [
{
"data": {"name": "tr"},
"mark": {"type": "line", "interpolate": "monotone", "strokeWidth": 1.4, "opacity": 0.85},
"encoding": {
"x": {"field": "t", "type": "quantitative",
"scale": {"type": "log", "domain": [0.05075, 159300], "nice": false},
"axis": {"values": [0.1, 1, 10, 100, 1000, 10000, 100000],
"labelExpr": "'10' + ['⁻⁶','⁻⁵','⁻⁴','⁻³','⁻²','⁻¹','⁰','¹','²','³','⁴','⁵'][round(log(datum.value)/LN10)+6]",
"grid": false, "domainColor": "black", "domainWidth": 1.2, "tickColor": "black", "tickSize": 6, "tickWidth": 1.2,
"labelFont": "DejaVu Sans", "labelFontSize": 24, "labelColor": "black", "labelPadding": 5, "labelFlush": false, "labelOverlap": false,
"title": "Time [years]", "titleFont": "DejaVu Sans", "titleFontSize": 30, "titleFontWeight": "normal", "titleColor": "black",
"titleX": 359, "titleY": 65, "titleBaseline": "alphabetic", "titleAlign": "center"}},
"y": {"field": "f", "type": "quantitative",
"scale": {"type": "log", "domain": [3.725e-7, 0.03967], "nice": false},
"axis": {"values": [1e-6, 1e-5, 1e-4, 1e-3, 1e-2],
"labelExpr": "'10' + ['⁻⁶','⁻⁵','⁻⁴','⁻³','⁻²','⁻¹','⁰','¹','²','³','⁴','⁵'][round(log(datum.value)/LN10)+6]",
"grid": false, "domainColor": "black", "domainWidth": 1.2, "tickColor": "black", "tickSize": 6, "tickWidth": 1.2,
"labelFont": "DejaVu Sans", "labelFontSize": 24, "labelColor": "black", "labelPadding": 5, "labelFlush": false, "labelOverlap": false,
"title": "UO₂ Flux [mol/m²/year]", "titleFont": "DejaVu Sans", "titleFontSize": 30, "titleFontWeight": "normal", "titleColor": "black",
"titleX": -83, "titleY": 254, "titleBaseline": "alphabetic", "titleAlign": "center", "titleAngle": 270}},
"detail": {"field": "s", "type": "nominal"},
"color": {"datum": "True Run", "type": "nominal",
"scale": {"domain": ["True Run", "kNNr Prediction"], "range": ["black", "blue"]},
"legend": {"title": null, "orient": "none", "legendX": 13, "legendY": 411, "padding": 3,
"fillColor": "rgba(255,255,255,0.85)", "strokeColor": "#cccccc", "cornerRadius": 4,
"labelFont": "DejaVu Sans", "labelFontSize": 25, "labelColor": "black", "labelOffset": 28, "labelLimit": 400, "rowPadding": 0,
"symbolType": "M-1.4,0H1.4", "symbolSize": 1296, "symbolOffset": 13, "symbolStrokeWidth": 1.5, "symbolOpacity": 0.8}},
"strokeDash": {"datum": "True Run", "type": "nominal",
"scale": {"domain": ["True Run", "kNNr Prediction"], "range": [[1, 0], [1.5, 1.8]]},
"legend": {"title": null, "orient": "none", "legendX": 13, "legendY": 411, "padding": 3,
"fillColor": "rgba(255,255,255,0.85)", "strokeColor": "#cccccc", "cornerRadius": 4,
"labelFont": "DejaVu Sans", "labelFontSize": 25, "labelColor": "black", "labelOffset": 28, "labelLimit": 400, "rowPadding": 0,
"symbolType": "M-1.4,0H1.4", "symbolSize": 1296, "symbolOffset": 13, "symbolStrokeWidth": 1.5, "symbolOpacity": 0.8}}
}
},
{
"data": {"name": "pr"},
"mark": {"type": "line", "interpolate": "monotone", "strokeWidth": 1.4, "opacity": 0.7},
"encoding": {
"x": {"field": "t", "type": "quantitative",
"axis": {"orient": "bottom", "values": [0.06,0.07,0.08,0.09,0.2,0.3,0.4,0.5,0.6,0.7,0.8,0.9,2,3,4,5,6,7,8,9,20,30,40,50,60,70,80,90,200,300,400,500,600,700,800,900,2000,3000,4000,5000,6000,7000,8000,9000,20000,30000,40000,50000,60000,70000,80000,90000],
"labels": false, "domain": false, "grid": false, "title": null, "tickColor": "black", "tickSize": 3.5, "tickWidth": 1}},
"y": {"field": "f", "type": "quantitative",
"axis": {"orient": "left", "values": [4e-7,5e-7,6e-7,7e-7,8e-7,9e-7,2e-6,3e-6,4e-6,5e-6,6e-6,7e-6,8e-6,9e-6,2e-5,3e-5,4e-5,5e-5,6e-5,7e-5,8e-5,9e-5,2e-4,3e-4,4e-4,5e-4,6e-4,7e-4,8e-4,9e-4,2e-3,3e-3,4e-3,5e-3,6e-3,7e-3,8e-3,9e-3,2e-2,3e-2],
"labels": false, "domain": false, "grid": false, "title": null, "tickColor": "black", "tickSize": 3.5, "tickWidth": 1}},
"detail": {"field": "s", "type": "nominal"},
"color": {"datum": "kNNr Prediction", "type": "nominal"},
"strokeDash": {"datum": "kNNr Prediction", "type": "nominal"}
}
}
],
"resolve": {"axis": {"x": "independent", "y": "independent"}}
}
